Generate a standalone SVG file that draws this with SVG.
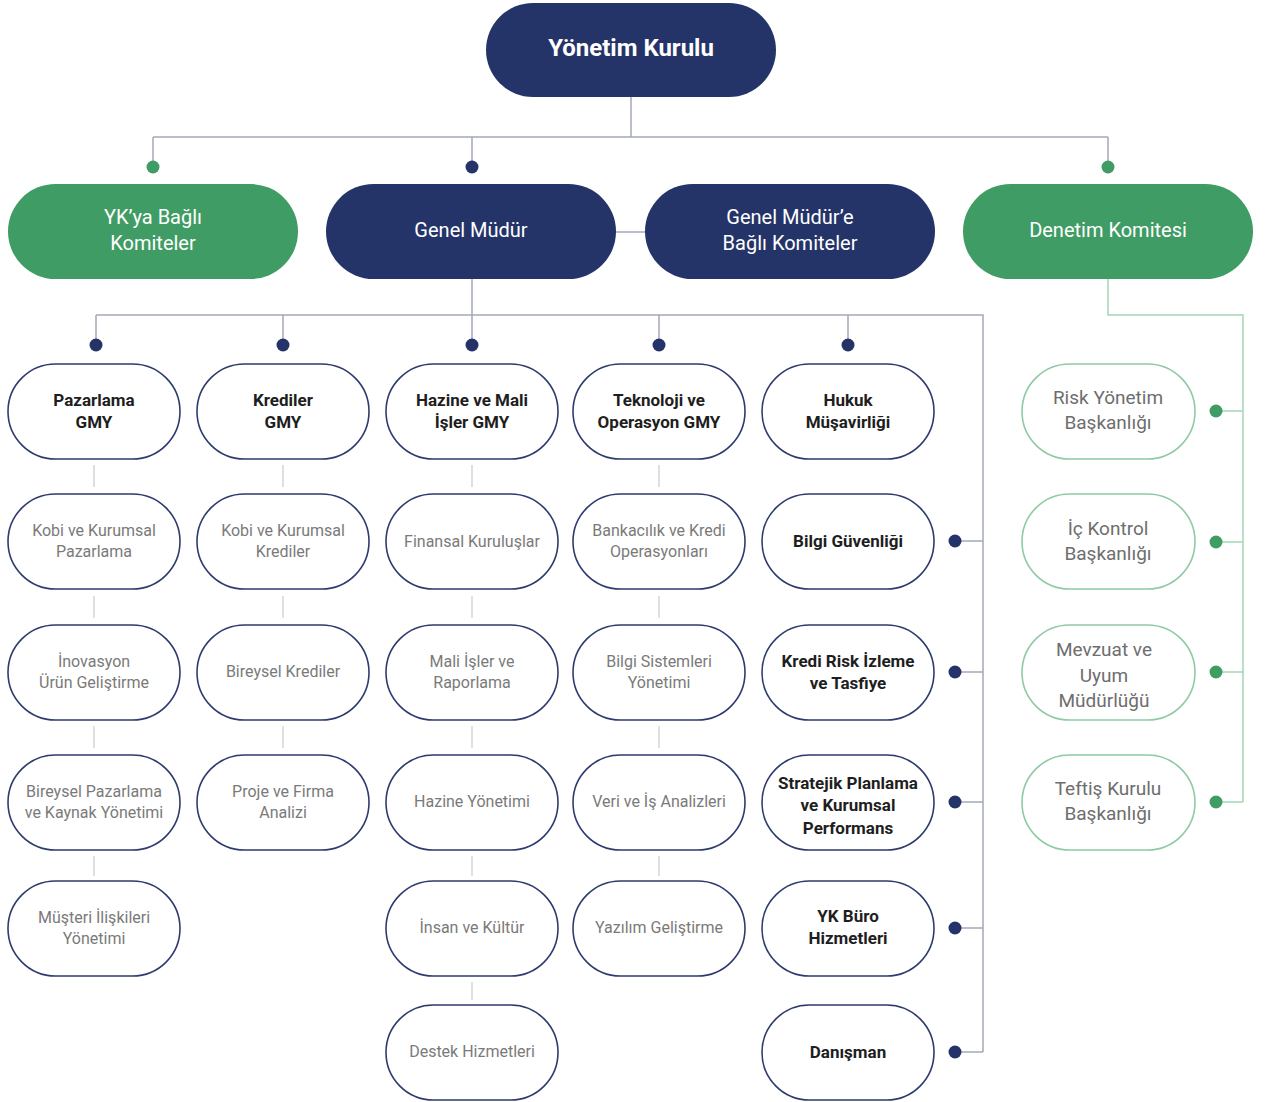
<svg xmlns="http://www.w3.org/2000/svg" width="1265" height="1102" viewBox="0 0 1265 1102">
<style>
.navy{fill:#253468}
.green{fill:#3f9c64}
.box{fill:#fff;stroke:#2e3b6e;stroke-width:1.6}
.gbox{fill:#fff;stroke:#8fcaa5;stroke-width:1.6}
text{font-family:Roboto,"Liberation Sans",sans-serif;text-anchor:middle}
.tt{font-size:24px;font-weight:700;fill:#fff}
.tw{font-size:20px;fill:#fff}
.tb{font-size:17px;font-weight:700;fill:#1e1e1e}
.tg{font-size:16px;fill:#7a7a7a}
.tr{font-size:19px;fill:#6e6e6e}
.ln{fill:none;stroke:#a3a9b8;stroke-width:1.5}
.sl{fill:none;stroke:#cfcfcf;stroke-width:1.3}
.gl{fill:none;stroke:#a6d5b9;stroke-width:1.5}
.dn{fill:#253468}
.dg{fill:#3f9c64}
</style>
<rect width="1265" height="1102" fill="#fff"/>
<g id="connectors">
<path class="ln" d="M631,97V137M153,137H1108M153,137V167M472,137V167M1108,137V167"/>
<path class="ln" d="M616,232H645"/>
<path class="ln" d="M472,279V315M96,315H983V1052M96,315V345M283,315V345M472,315V345M659,315V345M848,315V345"/>
<path class="ln" d="M955,541H983M955,672H983M955,802H983M955,928H983M955,1052H983"/>
<path class="gl" d="M1108,279V315H1243V802M1216,411H1243M1216,542H1243M1216,672H1243M1216,802H1243"/>
<path class="sl" d="M94,465V487M94,596V618M94,726V748M94,856V876M283,465V487M283,596V618M283,726V748M472,465V487M472,596V618M472,726V748M472,856V876M472,982V1000M659,465V487M659,596V618M659,726V748M659,856V876"/>
<circle class="dg" cx="153" cy="167" r="6.5"/><circle class="dn" cx="472" cy="167" r="6.5"/><circle class="dg" cx="1108" cy="167" r="6.5"/>
<circle class="dn" cx="96" cy="345" r="6.5"/><circle class="dn" cx="283" cy="345" r="6.5"/><circle class="dn" cx="472" cy="345" r="6.5"/><circle class="dn" cx="659" cy="345" r="6.5"/><circle class="dn" cx="848" cy="345" r="6.5"/>
<circle class="dn" cx="955" cy="541" r="6.5"/><circle class="dn" cx="955" cy="672" r="6.5"/><circle class="dn" cx="955" cy="802" r="6.5"/><circle class="dn" cx="955" cy="928" r="6.5"/><circle class="dn" cx="955" cy="1052" r="6.5"/>
<circle class="dg" cx="1216" cy="411" r="6.5"/><circle class="dg" cx="1216" cy="542" r="6.5"/><circle class="dg" cx="1216" cy="672" r="6.5"/><circle class="dg" cx="1216" cy="802" r="6.5"/>
</g>
<g id="yonetim-kurulu"><rect class="navy" x="486" y="3" width="290" height="94" rx="47"/><text class="tt" x="631" y="56">Yönetim Kurulu</text></g>
<g id="yk-bagli"><rect class="green" x="8" y="184" width="290" height="95" rx="47.5"/><text class="tw" x="153" y="224">YK’ya Bağlı</text><text class="tw" x="153" y="250">Komiteler</text></g>
<g id="genel-mudur"><rect class="navy" x="326" y="184" width="290" height="95" rx="47.5"/><text class="tw" x="471" y="237">Genel Müdür</text></g>
<g id="gm-bagli"><rect class="navy" x="645" y="184" width="290" height="95" rx="47.5"/><text class="tw" x="790" y="224">Genel Müdür’e</text><text class="tw" x="790" y="250">Bağlı Komiteler</text></g>
<g id="denetim"><rect class="green" x="963" y="184" width="290" height="95" rx="47.5"/><text class="tw" x="1108" y="237">Denetim Komitesi</text></g>

<g id="pazarlama-gmy"><rect class="box" x="8" y="364" width="172" height="95" rx="47.5"/><text class="tb" x="94" y="406">Pazarlama</text><text class="tb" x="94" y="428">GMY</text></g>
<g id="krediler-gmy"><rect class="box" x="197" y="364" width="172" height="95" rx="47.5"/><text class="tb" x="283" y="406">Krediler</text><text class="tb" x="283" y="428">GMY</text></g>
<g id="hazine-gmy"><rect class="box" x="386" y="364" width="172" height="95" rx="47.5"/><text class="tb" x="472" y="406">Hazine ve Mali</text><text class="tb" x="472" y="428">İşler GMY</text></g>
<g id="teknoloji-gmy"><rect class="box" x="573" y="364" width="172" height="95" rx="47.5"/><text class="tb" x="659" y="406">Teknoloji ve</text><text class="tb" x="659" y="428">Operasyon GMY</text></g>
<g id="hukuk"><rect class="box" x="762" y="364" width="172" height="95" rx="47.5"/><text class="tb" x="848" y="406">Hukuk</text><text class="tb" x="848" y="428">Müşavirliği</text></g>

<g id="kobi-pazarlama"><rect class="box" x="8" y="494" width="172" height="95" rx="47.5"/><text class="tg" x="94" y="536">Kobi ve Kurumsal</text><text class="tg" x="94" y="557">Pazarlama</text></g>
<g id="kobi-krediler"><rect class="box" x="197" y="494" width="172" height="95" rx="47.5"/><text class="tg" x="283" y="536">Kobi ve Kurumsal</text><text class="tg" x="283" y="557">Krediler</text></g>
<g id="finansal"><rect class="box" x="386" y="494" width="172" height="95" rx="47.5"/><text class="tg" x="472" y="547">Finansal Kuruluşlar</text></g>
<g id="bankacilik"><rect class="box" x="573" y="494" width="172" height="95" rx="47.5"/><text class="tg" x="659" y="536">Bankacılık ve Kredi</text><text class="tg" x="659" y="557">Operasyonları</text></g>
<g id="bilgi-guvenligi"><rect class="box" x="762" y="494" width="172" height="95" rx="47.5"/><text class="tb" x="848" y="547">Bilgi Güvenliği</text></g>

<g id="inovasyon"><rect class="box" x="8" y="625" width="172" height="95" rx="47.5"/><text class="tg" x="94" y="667">İnovasyon</text><text class="tg" x="94" y="688">Ürün Geliştirme</text></g>
<g id="bireysel-krediler"><rect class="box" x="197" y="625" width="172" height="95" rx="47.5"/><text class="tg" x="283" y="677">Bireysel Krediler</text></g>
<g id="mali-isler"><rect class="box" x="386" y="625" width="172" height="95" rx="47.5"/><text class="tg" x="472" y="667">Mali İşler ve</text><text class="tg" x="472" y="688">Raporlama</text></g>
<g id="bilgi-sistemleri"><rect class="box" x="573" y="625" width="172" height="95" rx="47.5"/><text class="tg" x="659" y="667">Bilgi Sistemleri</text><text class="tg" x="659" y="688">Yönetimi</text></g>
<g id="kredi-risk"><rect class="box" x="762" y="625" width="172" height="95" rx="47.5"/><text class="tb" x="848" y="667">Kredi Risk İzleme</text><text class="tb" x="848" y="689">ve Tasfiye</text></g>

<g id="bireysel-pazarlama"><rect class="box" x="8" y="755" width="172" height="95" rx="47.5"/><text class="tg" x="94" y="797">Bireysel Pazarlama</text><text class="tg" x="94" y="818">ve Kaynak Yönetimi</text></g>
<g id="proje-firma"><rect class="box" x="197" y="755" width="172" height="95" rx="47.5"/><text class="tg" x="283" y="797">Proje ve Firma</text><text class="tg" x="283" y="818">Analizi</text></g>
<g id="hazine-yonetimi"><rect class="box" x="386" y="755" width="172" height="95" rx="47.5"/><text class="tg" x="472" y="807">Hazine Yönetimi</text></g>
<g id="veri"><rect class="box" x="573" y="755" width="172" height="95" rx="47.5"/><text class="tg" x="659" y="807">Veri ve İş Analizleri</text></g>
<g id="stratejik"><rect class="box" x="762" y="755" width="172" height="95" rx="47.5"/><text class="tb" x="848" y="789">Stratejik Planlama</text><text class="tb" x="848" y="811">ve Kurumsal</text><text class="tb" x="848" y="834">Performans</text></g>

<g id="musteri"><rect class="box" x="8" y="881" width="172" height="95" rx="47.5"/><text class="tg" x="94" y="923">Müşteri İlişkileri</text><text class="tg" x="94" y="944">Yönetimi</text></g>
<g id="insan"><rect class="box" x="386" y="881" width="172" height="95" rx="47.5"/><text class="tg" x="472" y="933">İnsan ve Kültür</text></g>
<g id="yazilim"><rect class="box" x="573" y="881" width="172" height="95" rx="47.5"/><text class="tg" x="659" y="933">Yazılım Geliştirme</text></g>
<g id="yk-buro"><rect class="box" x="762" y="881" width="172" height="95" rx="47.5"/><text class="tb" x="848" y="922">YK Büro</text><text class="tb" x="848" y="944">Hizmetleri</text></g>

<g id="destek"><rect class="box" x="386" y="1005" width="172" height="95" rx="47.5"/><text class="tg" x="472" y="1057">Destek Hizmetleri</text></g>
<g id="danisman"><rect class="box" x="762" y="1005" width="172" height="95" rx="47.5"/><text class="tb" x="848" y="1058">Danışman</text></g>

<g id="risk-yonetim"><rect class="gbox" x="1022" y="364" width="173" height="95" rx="47.5"/><text class="tr" x="1108" y="404">Risk Yönetim</text><text class="tr" x="1108" y="429">Başkanlığı</text></g>
<g id="ic-kontrol"><rect class="gbox" x="1022" y="494" width="173" height="95" rx="47.5"/><text class="tr" x="1108" y="535">İç Kontrol</text><text class="tr" x="1108" y="560">Başkanlığı</text></g>
<g id="mevzuat"><rect class="gbox" x="1022" y="625" width="173" height="95" rx="47.5"/><text class="tr" x="1104" y="656">Mevzuat ve</text><text class="tr" x="1104" y="682">Uyum</text><text class="tr" x="1104" y="707">Müdürlüğü</text></g>
<g id="teftis"><rect class="gbox" x="1022" y="755" width="173" height="95" rx="47.5"/><text class="tr" x="1108" y="795">Teftiş Kurulu</text><text class="tr" x="1108" y="820">Başkanlığı</text></g>
</svg>
